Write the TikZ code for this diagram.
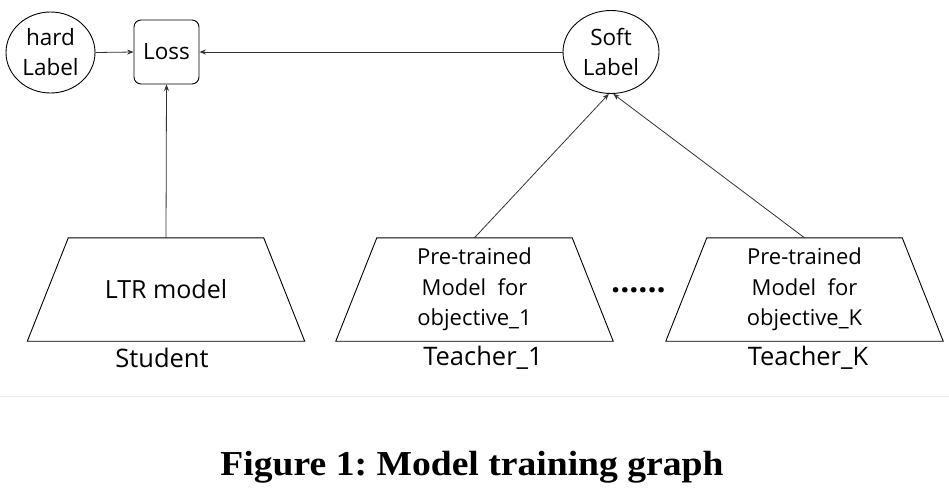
\documentclass[tikz,border=0pt]{standalone}
\usepackage{fontspec}
\setmainfont{Open Sans}
\newfontfamily\capfont{Liberation Serif}
\usetikzlibrary{arrows.meta,shapes.geometric}
\frenchspacing
\begin{document}
\begin{tikzpicture}[x=1pt,y=-1pt,
  txt/.style={font=\fontsize{22.5}{30}\selectfont, align=center, text=black},
  ell/.style={draw, ellipse, line width=0.9pt, inner sep=0pt, txt},
  lossbox/.style={draw, rounded corners=7pt, line width=0.9pt, inner sep=0pt, txt},
  trapbody/.style={rectangle, minimum width=195pt, minimum height=103pt, inner sep=0pt, txt, font=\fontsize{22}{30.5}\selectfont},
  trapline/.style={draw=black, line width=0.9pt, line join=miter},
  lbl/.style={font=\fontsize{25.5}{28}\selectfont, inner sep=0pt, text=black},
  conn/.style={draw=black!80, line width=0.8pt, -{Stealth[length=6.5pt,width=5pt]}}
]
\useasboundingbox (0,0) rectangle (949,496);
\node[ell, minimum width=89pt, minimum height=81pt] (hard) at (50.5,52.5) {hard\\Label};
\node[lossbox, minimum width=65pt, minimum height=64pt] (loss) at (166.5,52) {Loss};
\node[ell, minimum width=96pt, minimum height=83pt] (soft) at (611,52) {Soft\\Label};

\node[trapbody, font=\fontsize{25}{30}\selectfont] (stu) at (166,289.5) {LTR model};
\node[trapbody] (t1) at (474.5,289.5) {Pre-trained\\Model\ \ for\\objective\_1};
\node[trapbody] (tk) at (804.5,289.5) {Pre-trained\\Model\ \ for\\objective\_K};
\foreach \n in {stu,t1,tk}{
  \draw[trapline] (\n.north west) -- (\n.north east) -- ([xshift=41pt]\n.south east) -- ([xshift=-41pt]\n.south west) -- cycle;
}

\node[lbl] (stul) at (162,358) {Student};
\node[lbl] (t1l) at (483,358) {Teacher\_1};
\node[lbl] (tkl) at (808,358) {Teacher\_K};
\node[font=\fontsize{32}{32}\selectfont\bfseries, inner sep=0pt] (dots) at (638.5,290) {......};

\draw[conn] (hard.east) -- (loss.west);
\draw[conn] (soft.west) -- (loss.east);
\draw[conn] (stu.north) -- (loss.south);
\draw[conn] (t1.north) -- (soft.-93);
\draw[conn] (tk.north) -- (soft.-87);

\draw[black!8, line width=1pt] (0,396) -- (949,396);
\node[font=\capfont\bfseries\fontsize{35}{35}\selectfont, inner sep=0pt, xscale=1.075] (cap) at (472,467) {Figure 1: Model training graph};
\end{tikzpicture}
\end{document}
